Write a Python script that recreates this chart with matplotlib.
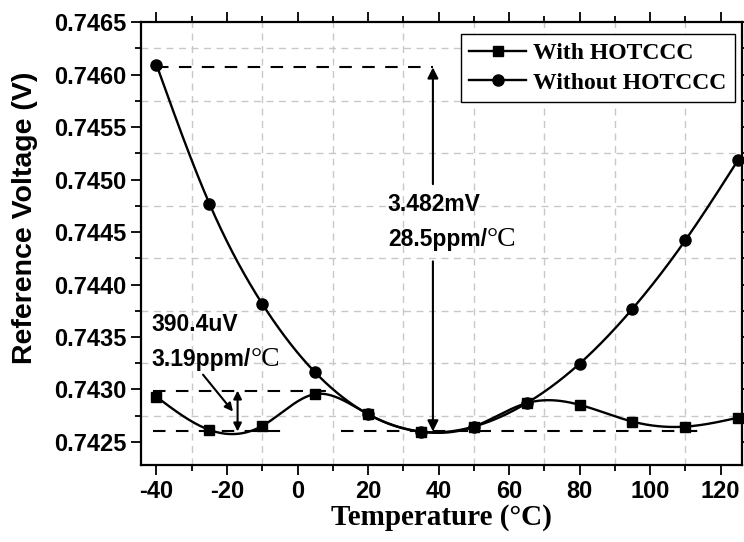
import numpy as np
import matplotlib
matplotlib.use("Agg")
from matplotlib import pyplot as plt
from matplotlib.ticker import MultipleLocator, FormatStrFormatter

plt.rcParams["axes.unicode_minus"] = False

# data
temp = [-40, -25, -10, 5, 20, 35, 50, 65, 80, 95, 110, 125]
with_hotccc = [0.74293, 0.742615, 0.742653, 0.742956, 0.742765, 0.742598,
               0.742646, 0.74287, 0.742854, 0.742694, 0.742646, 0.742732]
without_hotccc = [0.746095, 0.744772, 0.743816, 0.743163, 0.742765, 0.742598,
                  0.742646, 0.74287, 0.743246, 0.743769, 0.744422, 0.745189]

x_ticks = [-40, -20, 0, 20, 40, 60, 80, 100, 120]
y_ticks = [0.7425, 0.7430, 0.7435, 0.7440, 0.7445, 0.7450, 0.7455, 0.7460, 0.7465]

SANS = "Liberation Sans"
SERIF = "Liberation Serif"


def smooth(x, y, n=400):
    # natural cubic spline through the points (like the B-spline line in Origin)
    x = np.asarray(x, float)
    y = np.asarray(y, float)
    k = len(x)
    h = np.diff(x)
    A = np.zeros((k, k))
    b = np.zeros(k)
    A[0, 0] = A[-1, -1] = 1
    for i in range(1, k - 1):
        A[i, i - 1] = h[i - 1]
        A[i, i] = 2 * (h[i - 1] + h[i])
        A[i, i + 1] = h[i]
        b[i] = 6 * ((y[i + 1] - y[i]) / h[i] - (y[i] - y[i - 1]) / h[i - 1])
    M = np.linalg.solve(A, b)
    xs = np.linspace(x[0], x[-1], n)
    idx = np.clip(np.searchsorted(x, xs) - 1, 0, k - 2)
    x0, x1 = x[idx], x[idx + 1]
    hh = x1 - x0
    t0, t1 = x1 - xs, xs - x0
    ys = (M[idx] * t0**3 + M[idx + 1] * t1**3) / (6 * hh) \
        + (y[idx] / hh - M[idx] * hh / 6) * t0 \
        + (y[idx + 1] / hh - M[idx + 1] * hh / 6) * t1
    return xs, ys


fig = plt.figure(figsize=(7.44, 5.42), dpi=100)
ax = fig.add_axes([0.189, 0.142, 0.808, 0.817])

xs, ys = smooth(temp, with_hotccc)
ax.plot(xs, ys, color="black", lw=1.7, zorder=4)
ax.plot(temp, with_hotccc, "s", color="black", ms=7.5, zorder=5, clip_on=False)
xs, ys = smooth(temp, without_hotccc)
ax.plot(xs, ys, color="black", lw=1.7, zorder=4)
ax.plot(temp, without_hotccc, "o", color="black", ms=8, zorder=5, clip_on=False)

# legend proxies
ax.plot([], [], "-s", color="black", lw=1.7, ms=7.5, label="With HOTCCC")
ax.plot([], [], "-o", color="black", lw=1.7, ms=8, label="Without HOTCCC")
leg = ax.legend(loc="upper right", bbox_to_anchor=(0.988, 0.973),
                borderaxespad=0,
                prop={"family": SERIF, "weight": "bold", "size": 17},
                handlelength=2.4, handletextpad=0.3, borderpad=0.35,
                labelspacing=0.35, fancybox=False, framealpha=1)
leg.get_frame().set_edgecolor("black")
leg.get_frame().set_linewidth(1.0)
leg.set_zorder(10)

ax.set_xlim(-44.5, 126)
ax.set_ylim(0.74228, 0.7465)
ax.set_xticks(x_ticks)
ax.set_yticks(y_ticks)
ax.xaxis.set_minor_locator(MultipleLocator(10))
ax.yaxis.set_minor_locator(MultipleLocator(0.00025))
ax.yaxis.set_major_formatter(FormatStrFormatter("%.4f"))
ax.grid(which="minor", color="#c8c8c8", ls=(0, (5, 4)), lw=1.0)
ax.grid(which="major", visible=False)
ax.tick_params(which="both", direction="out", width=1.3, top=True, right=True)
ax.tick_params(which="major", length=7)
ax.tick_params(which="minor", length=4)
for lab in ax.get_xticklabels() + ax.get_yticklabels():
    lab.set_fontfamily(SANS)
    lab.set_fontweight("bold")
    lab.set_fontsize(17)
for s in ax.spines.values():
    s.set_linewidth(1.6)

ax.set_xlabel("Temperature (°C)", fontfamily=SERIF, fontweight="bold",
              fontsize=21, labelpad=1)
fig.text(25 / 744, 1 - 218 / 542, "Reference Voltage (V)", rotation=90,
         ha="center", va="center", fontfamily=SANS, fontweight="bold", fontsize=20.5)

# annotation lines
dash = dict(color="black", lw=1.5, ls=(0, (6, 5)), zorder=3)
ax.plot([-40, 38.4], [0.74607, 0.74607], **dash)
ax.plot([-41, -2.2], [0.7426, 0.7426], **dash)
ax.plot([12.4, 116], [0.7426, 0.7426], **dash)
ax.plot([-41, 8], [0.74299, 0.74299], **dash)

arr = dict(color="black", lw=1.5, shrinkA=0, shrinkB=0)
ax.annotate("", xy=(38.4, 0.74607), xytext=(38.4, 0.744957),
            arrowprops=dict(arrowstyle="-|>", mutation_scale=16, **arr))
ax.annotate("", xy=(38.4, 0.7426), xytext=(38.4, 0.744221),
            arrowprops=dict(arrowstyle="-|>", mutation_scale=16, **arr))
ax.annotate("", xy=(-17, 0.74299), xytext=(-17, 0.7426),
            arrowprops=dict(arrowstyle="<|-|>", mutation_scale=12, **arr))
ax.annotate("", xy=(-18.3, 0.74279), xytext=(-26.8, 0.743141),
            arrowprops=dict(arrowstyle="-|>", mutation_scale=12, **arr))

txt = dict(fontfamily=SANS, fontweight="bold", fontsize=16.5, va="center", ha="left")
ax.text(25.6, 0.744766, "3.482mV", **txt)
t1 = ax.text(25.6, 0.744431, "28.5ppm/", **txt)
ax.annotate("°C", xy=(1, 0.5), xycoords=t1, va="center", ha="left",
            fontfamily=SERIF, fontsize=20)
ax.text(-41.4, 0.743619, "390.4uV", **txt)
t2 = ax.text(-41.4, 0.743284, "3.19ppm/", **txt)
ax.annotate("°C", xy=(1, 0.5), xycoords=t2, va="center", ha="left",
            fontfamily=SERIF, fontsize=20)

fig.savefig("out.png", dpi=100)
